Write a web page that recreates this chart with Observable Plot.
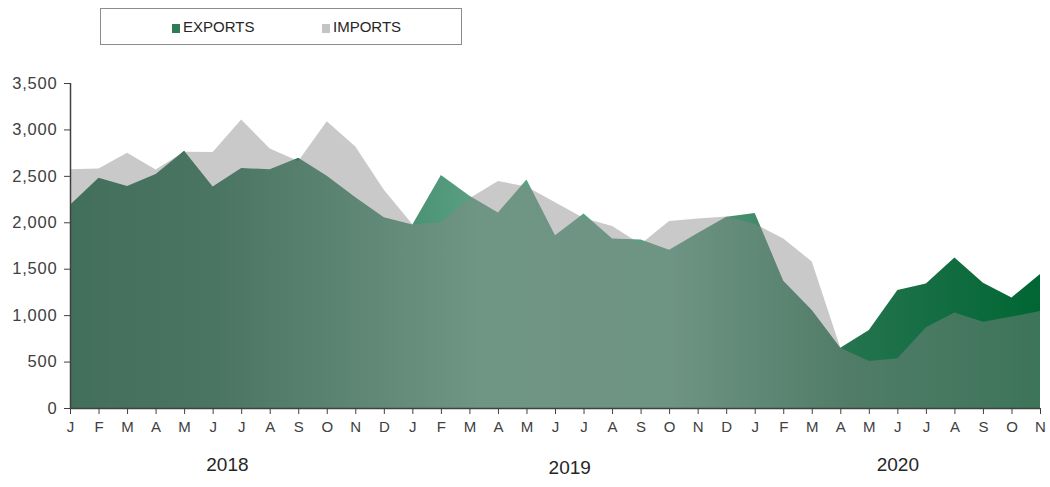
<!DOCTYPE html>
<html>
<head>
<meta charset="utf-8">
<script src="https://cdn.jsdelivr.net/npm/d3@7"></script>
<script src="https://cdn.jsdelivr.net/npm/@observablehq/plot@0.6"></script>
<style>
  html, body { margin: 0; padding: 0; background: #fff; }
  #wrap { position: relative; width: 1050px; height: 487px; font-family: "Liberation Sans", Arial, sans-serif; }
  #legend { position: absolute; left: 100px; top: 8px; width: 362px; height: 37px; border: 1px solid #8c8c8c; box-sizing: border-box; }
  .item { position: absolute; top: 9px; font-size: 15px; color: #262626; line-height: 17px; }
  .sw { display: inline-block; width: 8px; height: 9px; margin-right: 3px; vertical-align: -1px; }
  g[aria-label="y-axis tick label"] text { letter-spacing: 0.8px; }
</style>
</head>
<body>
<div id="wrap">
  <div id="legend">
    <div class="item" style="left:71px"><span class="sw" style="background:#2f7a58"></span>EXPORTS</div>
    <div class="item" style="left:221px"><span class="sw" style="background:#c4c4c4"></span>IMPORTS</div>
  </div>
</div>
<script>
const monthLetters = ["J","F","M","A","M","J","J","A","S","O","N","D",
                      "J","F","M","A","M","J","J","A","S","O","N","D",
                      "J","F","M","A","M","J","J","A","S","O","N"];
const exportsValues = [2190, 2480, 2390, 2520, 2770, 2385, 2585, 2570, 2695, 2500, 2270, 2055,
                       1975, 2510, 2285, 2105, 2460, 1860, 2095, 1825, 1815, 1705, 1885, 2060,
                       2100, 1370, 1055, 650, 840, 1270, 1340, 1620, 1350, 1190, 1443];
const importsValues = [2570, 2578, 2750, 2568, 2760, 2757, 3108, 2795, 2660, 3088, 2815, 2350,
                       1978, 2000, 2260, 2445, 2385, 2215, 2045, 1960, 1765, 2015, 2040, 2062,
                       1985, 1825, 1578, 650, 505, 535, 870, 1028, 930, 985, 1045];
const yearLabels = ["2018", "2019", "2020"];
const yearCenters = [5.5, 17.5, 29];
const yearDy = [62, 65, 62];
const yTicks = [0, 500, 1000, 1500, 2000, 2500, 3000, 3500];

const data = monthLetters.map((m, i) => ({i, m, exp: exportsValues[i], imp: importsValues[i]}));
const years = yearLabels.map((y, k) => ({label: y, pos: yearCenters[k], dy: yearDy[k]}));

const axisColor = "#404040";
const chart = Plot.plot({
  width: 1050,
  height: 487,
  marginTop: 83,
  marginBottom: 79,
  marginLeft: 70,
  marginRight: 10,
  style: {fontFamily: "'Liberation Sans', Arial, sans-serif", color: axisColor, background: "transparent"},
  x: {type: "linear", domain: [0, 34]},
  y: {domain: [0, 3500]},
  marks: [
    Plot.areaY(data, {x: "i", y: "exp", fill: "url(#expGrad)"}),
    Plot.areaY(data, {x: "i", y: "imp", fill: "#888888", fillOpacity: 0.45}),
    Plot.ruleX([0], {stroke: axisColor, strokeWidth: 1.5}),
    Plot.ruleY([0], {stroke: axisColor, strokeWidth: 1.5}),
    Plot.axisY({ticks: yTicks, tickFormat: d3.format(","), tickSize: 6, tickPadding: 7, fontSize: 16.5, label: null, stroke: axisColor}),
    Plot.axisX({ticks: d3.range(35), tickFormat: i => monthLetters[i], tickSize: 6, tickPadding: 7, fontSize: 15, label: null, stroke: axisColor}),
    ...years.map(y => Plot.text([y], {x: "pos", text: "label", frameAnchor: "bottom", dy: y.dy, fontSize: 19, fill: "#262626"}))
  ]
});

const ns = "http://www.w3.org/2000/svg";
const defs = document.createElementNS(ns, "defs");
const grad = document.createElementNS(ns, "linearGradient");
grad.setAttribute("id", "expGrad");
grad.setAttribute("gradientUnits", "userSpaceOnUse");
grad.setAttribute("x1", "70"); grad.setAttribute("x2", "1040");
grad.setAttribute("y1", "0"); grad.setAttribute("y2", "0");
[[0, "#0a5c38"], [0.15, "#1a6646"], [0.42, "#5ba083"], [0.62, "#5a9e82"], [0.8, "#25744f"], [1, "#006633"]].forEach(([o, c]) => {
  const s = document.createElementNS(ns, "stop");
  s.setAttribute("offset", o); s.setAttribute("stop-color", c);
  grad.appendChild(s);
});
defs.appendChild(grad);
chart.insertBefore(defs, chart.firstChild);
chart.style.position = "absolute";
chart.style.left = "0"; chart.style.top = "0";
document.getElementById("wrap").insertBefore(chart, document.getElementById("legend"));
</script>
</body>
</html>
